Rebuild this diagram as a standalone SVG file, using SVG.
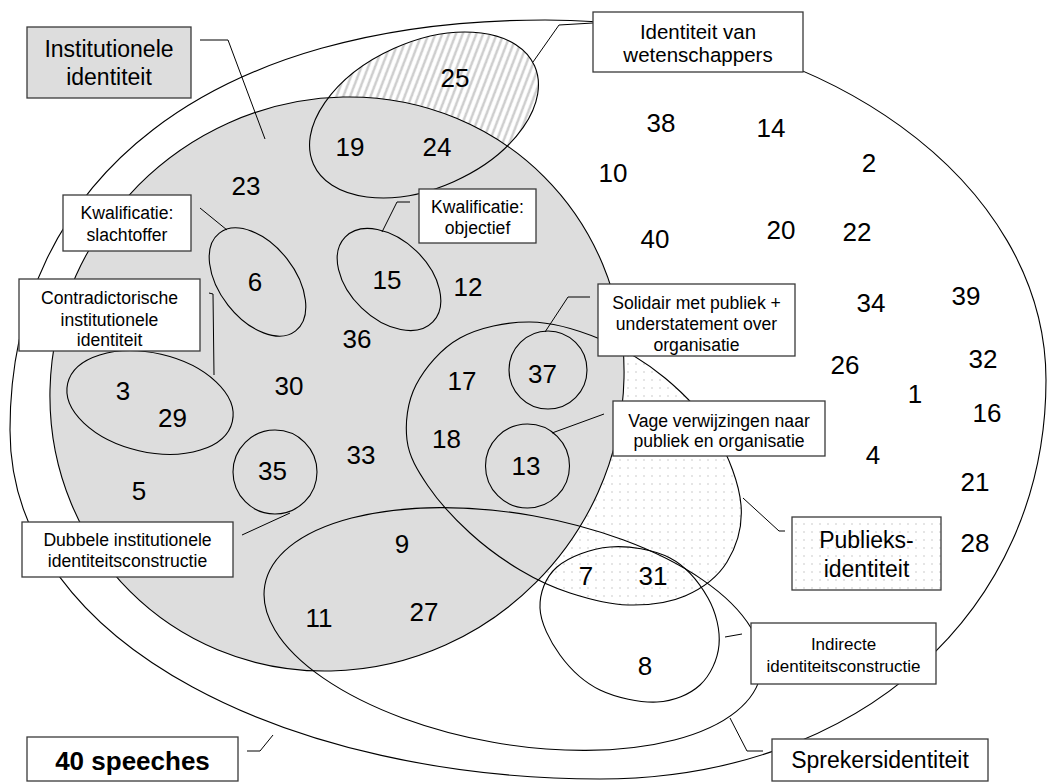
<svg xmlns="http://www.w3.org/2000/svg" width="1047" height="782" viewBox="0 0 1047 782">
<defs>
<pattern id="hatch" width="9" height="9" patternUnits="userSpaceOnUse">
<rect width="9" height="9" fill="#fff"/>
<path d="M0,9 L9,0 M-3,3 L3,-3 M6,12 L12,6" stroke="#cdcdcd" stroke-width="2.4"/>
</pattern>
<pattern id="dots" width="8" height="8" patternUnits="userSpaceOnUse">
<rect width="8" height="8" fill="#fff"/>
<circle cx="4" cy="4" r="0.8" fill="#c4c4c4"/>
</pattern>
<style>
.ln{fill:none;stroke:#000;stroke-width:1.1}
.box{fill:#fff;stroke:#3a3a3a;stroke-width:1.3}
.lead{fill:none;stroke:#000;stroke-width:1}
.num{font-family:"Liberation Sans",Arial,sans-serif;font-size:26px;text-anchor:middle;fill:#000}
.lbl{font-family:"Liberation Sans",Arial,sans-serif;text-anchor:middle;fill:#000}
.big{font-size:23px}
.sm{font-size:17.6px}
</style>
</defs>
<rect width="1047" height="782" fill="#fff"/>

<g id="speeches-set">
<path d="M 10,430 C 10,176 213,20 545,20 C 825,20 1046,183 1046,380 C 1046,611 859,779 600,779 C 300,779 10,650 10,430 Z" fill="#fff" stroke="#000" stroke-width="1.1"/>
</g>

<g id="publieks-set">
<path d="M530,322 C553.3,322.2 577.5,329.7 600,339 C622.5,348.3 645.7,362 665,378 C684.3,394 703.3,413.8 716,435 C728.7,456.2 739.2,483.8 741,505 C742.8,526.2 736.3,546.8 727,562 C717.7,577.2 701.5,588.8 685,596 C668.5,603.2 647.2,605.5 628,605 C608.8,604.5 588,598.8 570,593 C552,587.2 536.7,580 520,570 C503.3,560 485.3,547 470,533 C454.7,519 438.5,501.5 428,486 C417.5,470.5 409,456.8 407,440 C405,423.2 407.2,402 416,385 C424.8,368 441,348.5 460,338 C479,327.5 506.7,321.8 530,322 Z" fill="url(#dots)" stroke="none"/>
</g>

<g id="wetenschappers-set">
<ellipse cx="424" cy="115" rx="121" ry="73" transform="rotate(-24 424 115)" fill="url(#hatch)" stroke="none"/>
</g>

<g id="institutioneel-set">
<ellipse cx="337" cy="384" rx="293" ry="281" transform="rotate(-45 337 384)" fill="#dddddd" stroke="#000" stroke-width="1.1"/>
</g>

<g id="outlines">
<ellipse class="ln" cx="424" cy="115" rx="121" ry="73" transform="rotate(-24 424 115)" stroke-width="1.4"/>
<path class="ln" d="M530,322 C553.3,322.2 577.5,329.7 600,339 C622.5,348.3 645.7,362 665,378 C684.3,394 703.3,413.8 716,435 C728.7,456.2 739.2,483.8 741,505 C742.8,526.2 736.3,546.8 727,562 C717.7,577.2 701.5,588.8 685,596 C668.5,603.2 647.2,605.5 628,605 C608.8,604.5 588,598.8 570,593 C552,587.2 536.7,580 520,570 C503.3,560 485.3,547 470,533 C454.7,519 438.5,501.5 428,486 C417.5,470.5 409,456.8 407,440 C405,423.2 407.2,402 416,385 C424.8,368 441,348.5 460,338 C479,327.5 506.7,321.8 530,322 Z"/>
</g>

<g id="sprekers-set">
<ellipse class="ln" cx="513" cy="629" rx="252" ry="115" transform="rotate(10 513 629)"/>
</g>

<g id="indirect-set">
<path class="ln" d="M540,608 C539.5,593.3 545.3,577.2 557,567 C568.7,556.8 591.2,548.5 610,547 C628.8,545.5 653.7,549.5 670,558 C686.3,566.5 699.8,583.5 708,598 C716.2,612.5 720.3,630.5 719,645 C717.7,659.5 710.3,675.5 700,685 C689.7,694.5 673.7,701.2 657,702 C640.3,702.8 616.2,697.8 600,690 C583.8,682.2 570,668.7 560,655 C550,641.3 540.5,622.7 540,608 Z"/>
</g>

<g id="slachtoffer-set"><ellipse class="ln" cx="257.5" cy="282" rx="62" ry="37.5" transform="rotate(52 257.5 282)"/></g>
<g id="objectief-set"><ellipse class="ln" cx="389" cy="279.5" rx="61" ry="39.5" transform="rotate(44 389 279.5)"/></g>
<g id="contradictorisch-set"><ellipse class="ln" cx="150" cy="402.5" rx="84.5" ry="49.5" transform="rotate(13 150 402.5)"/></g>
<g id="dubbel-set"><circle class="ln" cx="275" cy="472" r="42"/></g>
<g id="solidair-set"><circle class="ln" cx="548" cy="370" r="39"/></g>
<g id="vaag-set"><circle class="ln" cx="527.5" cy="466" r="42"/></g>

<g id="connectors">
<polyline class="lead" points="200,40 228,40 265,139"/>
<polyline class="lead" points="593,23 559,25 533,62"/>
<polyline class="lead" points="200,208 227,230"/>
<polyline class="lead" points="410,202 397,202 382,232"/>
<polyline class="lead" points="209,293 213,294 214,375"/>
<polyline class="lead" points="590,297 568,297 545,332"/>
<polyline class="lead" points="604,414 552,433"/>
<polyline class="lead" points="785,531 779,531 743,498"/>
<polyline class="lead" points="742,634 725,637"/>
<polyline class="lead" points="763,751 747,751 730,718"/>
<polyline class="lead" points="247,751 260,751 273,735"/>
<polyline class="lead" points="242,535 290,513"/>
</g>

<g id="label-institutioneel">
<rect class="box" x="27" y="27" width="164" height="71" style="fill:#dddddd"/>
<text class="lbl big" x="109" y="56.5">Institutionele</text>
<text class="lbl big" x="109" y="85">identiteit</text>
</g>
<g id="label-wetenschappers">
<rect class="box" x="593" y="12" width="210" height="60"/>
<text class="lbl" font-size="20.5" x="698" y="39">Identiteit van</text>
<text class="lbl" font-size="20.5" x="698" y="62">wetenschappers</text>
</g>
<g id="label-slachtoffer">
<rect class="box" x="63" y="195" width="128" height="56"/>
<text class="lbl sm" x="127" y="219">Kwalificatie:</text>
<text class="lbl sm" x="127" y="240.5">slachtoffer</text>
</g>
<g id="label-objectief">
<rect class="box" x="419" y="189" width="117" height="54"/>
<text class="lbl sm" x="477.5" y="212.5">Kwalificatie:</text>
<text class="lbl sm" x="477.5" y="233.5">objectief</text>
</g>
<g id="label-contradictorisch">
<rect class="box" x="19" y="279" width="181" height="72"/>
<text class="lbl sm" x="109.5" y="304">Contradictorische</text>
<text class="lbl sm" x="109.5" y="325.5">institutionele</text>
<text class="lbl sm" x="109.5" y="346">identiteit</text>
</g>
<g id="label-solidair">
<rect class="box" x="598" y="284" width="197" height="72"/>
<text class="lbl sm" x="696.5" y="309">Solidair met publiek +</text>
<text class="lbl sm" x="696.5" y="330">understatement over</text>
<text class="lbl sm" x="696.5" y="350.5">organisatie</text>
</g>
<g id="label-vaag">
<rect class="box" x="613" y="401" width="212" height="55"/>
<text class="lbl sm" x="719" y="426.5">Vage verwijzingen naar</text>
<text class="lbl sm" x="719" y="446.5">publiek en organisatie</text>
</g>
<g id="label-publieks">
<rect class="box" x="792" y="517" width="149" height="73" style="fill:url(#dots)"/>
<text class="lbl big" x="866.5" y="548">Publieks-</text>
<text class="lbl big" x="866.5" y="577">identiteit</text>
</g>
<g id="label-indirect">
<rect class="box" x="751" y="623" width="185" height="61"/>
<text class="lbl" font-size="17" x="843.5" y="650">Indirecte</text>
<text class="lbl" font-size="17" x="843.5" y="672">identiteitsconstructie</text>
</g>
<g id="label-sprekers">
<rect class="box" x="772" y="739" width="216" height="42"/>
<text class="lbl big" x="880" y="768">Sprekersidentiteit</text>
</g>
<g id="label-speeches">
<rect class="box" x="27" y="737" width="211" height="44"/>
<text class="lbl" font-size="26" font-weight="bold" x="132.5" y="770">40 speeches</text>
</g>
<g id="label-dubbel">
<rect class="box" x="22" y="522" width="211" height="55"/>
<text class="lbl sm" x="127.5" y="546">Dubbele institutionele</text>
<text class="lbl sm" x="127.5" y="567">identiteitsconstructie</text>
</g>

<g id="s1"><text class="num" x="915" y="403.3">1</text></g>
<g id="s2"><text class="num" x="869" y="172.3">2</text></g>
<g id="s3"><text class="num" x="123" y="400.3">3</text></g>
<g id="s4"><text class="num" x="873" y="464.3">4</text></g>
<g id="s5"><text class="num" x="139" y="500.3">5</text></g>
<g id="s6"><text class="num" x="255" y="291.3">6</text></g>
<g id="s7"><text class="num" x="586" y="585.3">7</text></g>
<g id="s8"><text class="num" x="645" y="675.3">8</text></g>
<g id="s9"><text class="num" x="402" y="553.3">9</text></g>
<g id="s10"><text class="num" x="613" y="182.3">10</text></g>
<g id="s11"><text class="num" x="319" y="626.8">11</text></g>
<g id="s12"><text class="num" x="468" y="296.3">12</text></g>
<g id="s13"><text class="num" x="526" y="475.3">13</text></g>
<g id="s14"><text class="num" x="771" y="137.3">14</text></g>
<g id="s15"><text class="num" x="387" y="289.3">15</text></g>
<g id="s16"><text class="num" x="987" y="422.3">16</text></g>
<g id="s17"><text class="num" x="462" y="390.3">17</text></g>
<g id="s18"><text class="num" x="446.5" y="448.3">18</text></g>
<g id="s19"><text class="num" x="350" y="156.3">19</text></g>
<g id="s20"><text class="num" x="781" y="239.3">20</text></g>
<g id="s21"><text class="num" x="975" y="491.3">21</text></g>
<g id="s22"><text class="num" x="857" y="241.3">22</text></g>
<g id="s23"><text class="num" x="246" y="195.3">23</text></g>
<g id="s24"><text class="num" x="437" y="156.3">24</text></g>
<g id="s25"><text class="num" x="455" y="87.3">25</text></g>
<g id="s26"><text class="num" x="845" y="374.3">26</text></g>
<g id="s27"><text class="num" x="424" y="621.3">27</text></g>
<g id="s28"><text class="num" x="975" y="552.3">28</text></g>
<g id="s29"><text class="num" x="172.5" y="426.8">29</text></g>
<g id="s30"><text class="num" x="289" y="395.3">30</text></g>
<g id="s31"><text class="num" x="653" y="585.3">31</text></g>
<g id="s32"><text class="num" x="983" y="368.3">32</text></g>
<g id="s33"><text class="num" x="361" y="463.8">33</text></g>
<g id="s34"><text class="num" x="871" y="312.3">34</text></g>
<g id="s35"><text class="num" x="272.5" y="480.3">35</text></g>
<g id="s36"><text class="num" x="357" y="348.3">36</text></g>
<g id="s37"><text class="num" x="542.5" y="383.3">37</text></g>
<g id="s38"><text class="num" x="661" y="132.3">38</text></g>
<g id="s39"><text class="num" x="966" y="305.3">39</text></g>
<g id="s40"><text class="num" x="655" y="248.3">40</text></g>
</svg>
